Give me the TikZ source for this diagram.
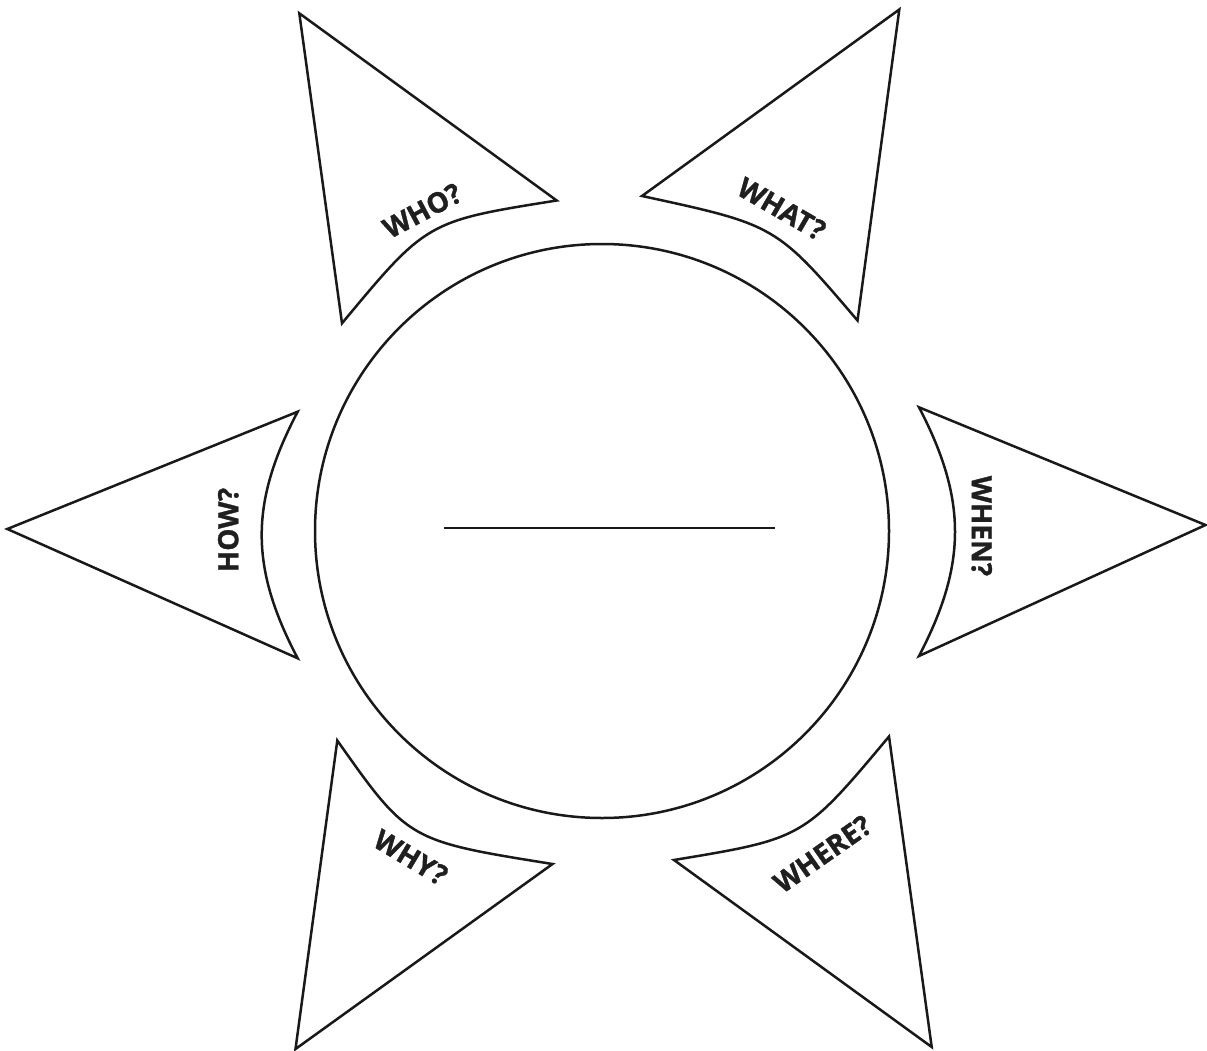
\documentclass[tikz,border=0pt]{standalone}
\usepackage{fontspec}
\setmainfont{Open Sans}
\newfontfamily\lblfont{Open Sans}[BoldFeatures={FakeBold=1.2}]
\begin{document}
\begin{tikzpicture}[x=1pt,y=-1pt,
  shapeline/.style={draw=black!90, line width=2.5pt, line join=miter},
  label/.style={font=\lblfont\fontsize{28}{28}\selectfont\bfseries, text=black!88, inner sep=0pt}]
\useasboundingbox (0,0) rectangle (1207,1051);
% centre circle and line
\draw[shapeline] (602,531) circle[radius=287pt];
\coordinate (lineL) at (443.5,528);
\coordinate (lineR) at (775,528);
\draw[shapeline] (lineL) -- (lineR);
% WHO
\coordinate (whoA) at (299.3,13.3);
\coordinate (whoR) at (556.7,200.5);
\coordinate (whoB) at (342,323.3);
\coordinate (whoC) at (426.8,221.2);
\draw[shapeline] (whoA) -- (whoR) .. controls (whoC) and (whoC) .. (whoB) -- cycle;
\node[label, rotate=28] (who) at (422.3,210.7) {WHO?};
% WHAT
\coordinate (whatA) at (899.3,9.5);
\coordinate (whatL) at (642,196);
\coordinate (whatB) at (857.5,320.5);
\coordinate (whatC) at (776,225);
\draw[shapeline] (whatA) -- (whatL) .. controls (whatC) and (whatC) .. (whatB) -- cycle;
\node[label, rotate=-30] (what) at (781.7,209) {WHAT?};
% HOW
\coordinate (howA) at (7.3,529);
\coordinate (howT) at (297.7,411.7);
\coordinate (howB) at (297.7,658.3);
\draw[shapeline] (howA) -- (howT) .. controls (249.7,502.9) and (249.7,567.1) .. (howB) -- cycle;
\node[label, rotate=90] (how) at (228.3,530) {HOW?};
% WHEN
\coordinate (whenA) at (1205.5,525);
\coordinate (whenT) at (919,407.3);
\coordinate (whenB) at (919,656);
\draw[shapeline] (whenA) -- (whenT) .. controls (967,499.3) and (967,564.1) .. (whenB) -- cycle;
\node[label, rotate=-90] (when) at (981.7,526) {WHEN?};
% WHY
\coordinate (whyA) at (295.5,1049);
\coordinate (whyT) at (337.3,740.5);
\coordinate (whyR) at (552.5,864);
\coordinate (whyC) at (408.1,840.8);
\draw[shapeline] (whyA) -- (whyT) .. controls (whyC) and (whyC) .. (whyR) -- cycle;
\node[label, rotate=-31] (why) at (410.8,857.5) {WHY?};
% WHERE
\coordinate (whereA) at (931.7,1047);
\coordinate (whereT) at (889,736.5);
\coordinate (whereL) at (674,860);
\coordinate (whereC) at (803.6,838.5);
\draw[shapeline] (whereA) -- (whereT) .. controls (whereC) and (whereC) .. (whereL) -- cycle;
\node[label, rotate=35] (where) at (822.5,854) {WHERE?};
\end{tikzpicture}
\end{document}
